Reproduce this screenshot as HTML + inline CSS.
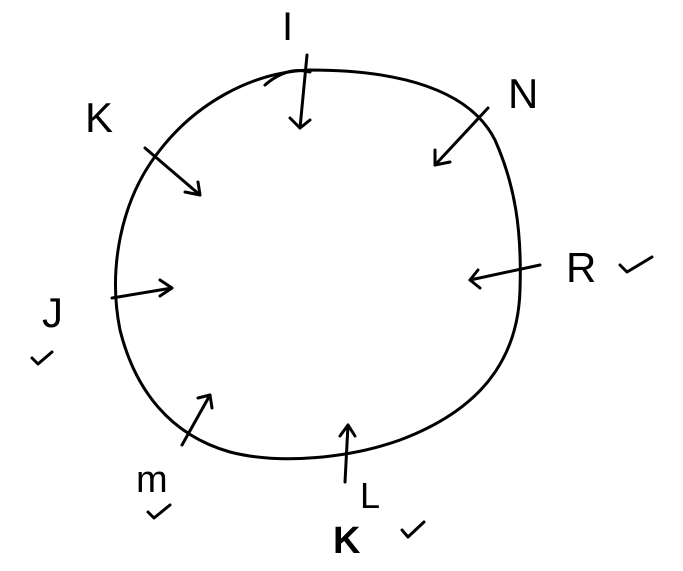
<!DOCTYPE html>
<html><head><meta charset="utf-8"><style>html,body{margin:0;padding:0;background:#fff;}svg{display:block}</style></head>
<body>
<svg width="683" height="571" viewBox="0 0 683 571" xmlns="http://www.w3.org/2000/svg">
<g fill="none" stroke="#000" stroke-width="3" stroke-linecap="round" stroke-linejoin="round">
<path d="M310 70 C400 70 470 90 495 140 C515 185 522 230 520 290 C518 360 480 410 400 440 C350 458 280 465 230 452 C170 435 135 390 120 330 C108 270 120 200 160 150 C195 105 250 72 310 70 Z"/>
<path d="M265 85 C280 72 295 68 310 72"/>
<path d="M307 55 L300 128"/><path d="M290 118 L300 128 L310 120"/>
<path d="M145 148 L200 195"/><path d="M185 192 L200 195 L198 182"/>
<path d="M488 108 L435 165"/><path d="M435 150 L435 165 L450 162"/>
<path d="M540 265 L470 280"/><path d="M478 270 L470 280 L480 288"/>
<path d="M112 298 L172 288"/><path d="M160 280 L172 288 L160 296"/>
<path d="M182 445 L210 395"/><path d="M198 398 L210 395 L212 408"/>
<path d="M345 482 L348 425"/><path d="M340 436 L348 425 L355 436"/>
<path d="M620 265 L627 272 L652 257"/>
<path d="M32 358 L38 364 L52 352"/>
<path d="M148 512 L154 518 L170 505"/>
<path d="M402 530 L408 537 L424 522"/>
</g>
<g font-family="Liberation Sans, sans-serif" fill="#000" font-size="42">
<text x="282" y="40" font-size="40">I</text>
<text x="85" y="132">K</text>
<text x="508" y="108">N</text>
<text x="566" y="282">R</text>
<text x="42" y="327">J</text>
<text x="136" y="492" font-size="38">m</text>
<text x="360" y="508" font-size="36">L</text>
<text x="333" y="553" font-size="38" font-weight="bold">K</text>
</g>
</svg>
</body></html>
